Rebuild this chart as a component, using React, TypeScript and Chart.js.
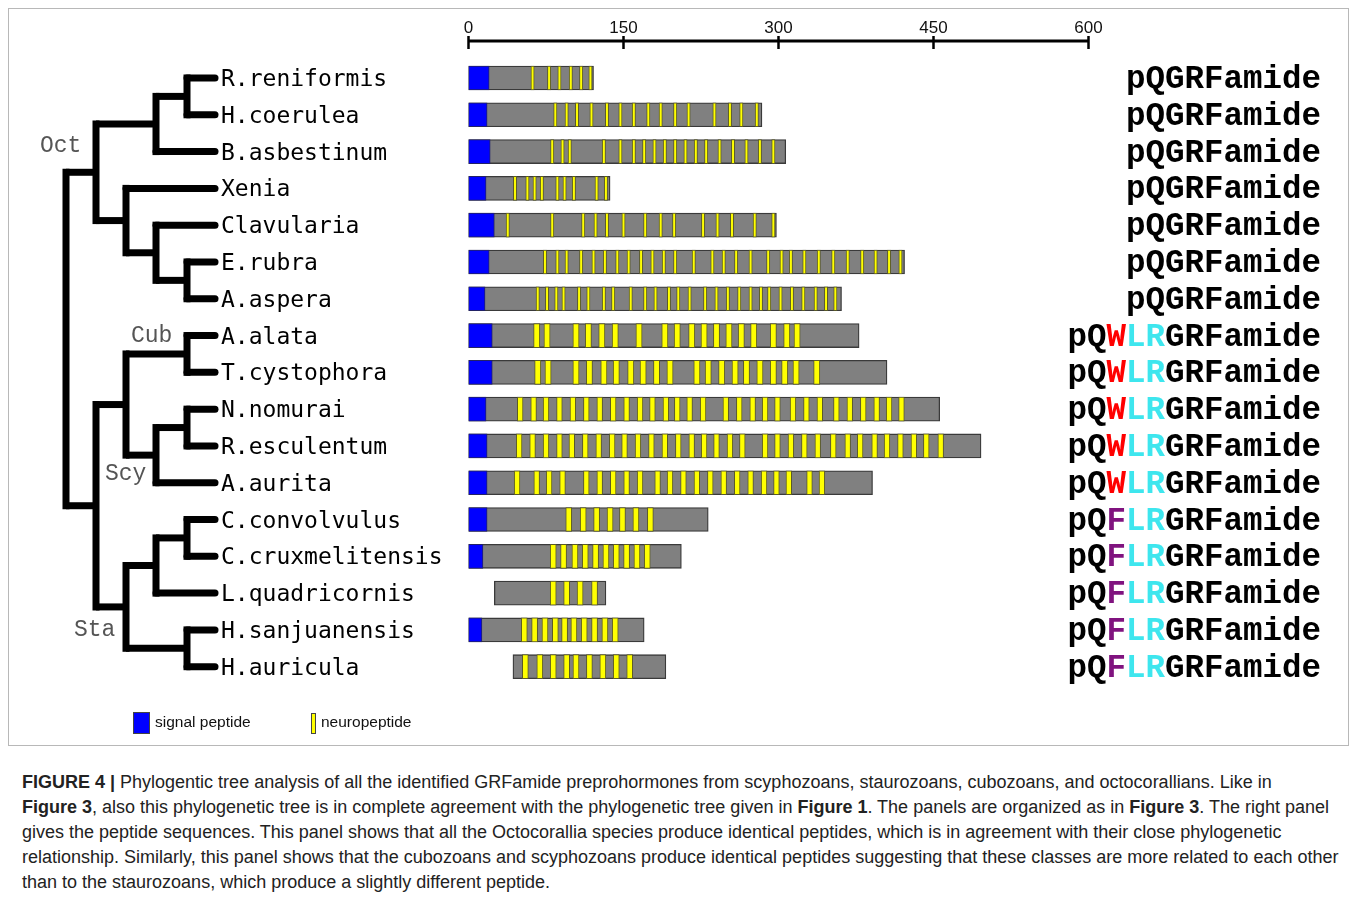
import React, { useEffect, useRef } from "react";
import { Chart, registerables } from "chart.js";
Chart.register(...registerables);

const SPECIES = [
  "R.reniformis", "H.coerulea", "B.asbestinum", "Xenia", "Clavularia", "E.rubra", "A.aspera",
  "A.alata", "T.cystophora", "N.nomurai", "R.esculentum", "A.aurita",
  "C.convolvulus", "C.cruxmelitensis", "L.quadricornis", "H.sanjuanensis", "H.auricula",
];

const PRECURSOR_START = [0, 0, 0, 0, 0, 0, 0, 0, 0, 0, 0, 0, 0, 0, 25, 0, 43];
const PRECURSOR_END = [121, 284, 307, 137, 298, 422, 361, 378, 405, 456, 496, 391, 232, 206, 133, 170, 191];
const SIGNAL_END: (number | null)[] = [20, 18, 21, 17, 25, 20, 16, 23, 23, 17, 18, 18, 18, 14, null, 13, null];
const NEURO_LEN = [3.2, 3.2, 3.2, 3.2, 3.2, 3.2, 3.2, 6, 6, 5.5, 5.5, 5.5, 5.8, 5.8, 5.8, 5.8, 5.8];

const NEURO_CENTERS: number[][] = [
  [62, 78, 88, 99, 109, 118],
  [84, 95, 105, 119, 134, 147, 160, 174, 186, 200, 213, 238, 253, 264, 279],
  [81, 91, 98, 131, 147, 160, 170, 180, 190, 200, 210, 220, 230, 243, 256, 269, 282, 295],
  [45, 57, 64, 71, 86, 93, 102, 124, 133],
  [38, 81, 111, 123, 134, 150, 171, 186, 199, 227, 241, 255, 277, 295],
  [74, 86, 95, 109, 121, 132, 144, 155, 167, 178, 189, 200, 218, 236, 247, 259, 273, 290, 303, 312, 325, 339, 353, 367, 381, 394, 407, 418],
  [67, 76, 85, 92, 107, 116, 131, 140, 157, 171, 181, 194, 203, 214, 229, 240, 251, 262, 273, 283, 291, 302, 313, 324, 336, 346, 355],
  [66, 76, 104, 116, 129, 142, 165, 190, 202, 216, 228, 240, 252, 264, 276, 295, 308, 318],
  [67, 77, 104, 117, 131, 143, 157, 169, 182, 195, 221, 232, 245, 258, 269, 282, 295, 306, 317, 337],
  [50, 63, 75, 88, 101, 114, 127, 140, 153, 166, 178, 191, 202, 214, 227, 249, 262, 275, 287, 299, 314, 327, 340, 356, 369, 382, 395, 407, 419],
  [49, 62, 75, 88, 100, 113, 126, 139, 151, 164, 177, 190, 203, 216, 228, 240, 253, 265, 287, 299, 312, 325, 338, 353, 367, 379, 393, 405, 418, 431, 443, 457],
  [47, 66, 78, 91, 114, 127, 140, 153, 166, 183, 195, 208, 221, 234, 247, 260, 273, 286, 298, 310, 330, 342],
  [97, 111, 124, 137, 149, 162, 176],
  [82, 92, 103, 113, 123, 133, 143, 153, 163, 173],
  [82, 95, 108, 122],
  [54, 64, 74, 84, 93, 102, 112, 122, 132, 142],
  [55, 69, 82, 95, 104, 117, 130, 143, 156],
];

const X_TICKS = [0, 150, 300, 450, 600];

// peptide sequences: segments [text, colorKey]
const PEPTIDES: [string, string][][] = [
  [["pQGRFamide", "k"]],
  [["pQ", "k"], ["W", "r"], ["LR", "c"], ["GRFamide", "k"]],
  [["pQ", "k"], ["F", "p"], ["LR", "c"], ["GRFamide", "k"]],
];
const PEPTIDE_TYPE = [0, 0, 0, 0, 0, 0, 0, 1, 1, 1, 1, 1, 2, 2, 2, 2, 2];

const GROUP_LABELS = ["Oct", "Cub", "Scy", "Sta"];
const LEGEND_LABELS = ["signal peptide", "neuropeptide"];

type TNode = { lv: number; kids: (TNode | number)[] };
const TREE: TNode = {
  lv: 0,
  kids: [
    {
      lv: 1,
      kids: [
        { lv: 3, kids: [{ lv: 4, kids: [0, 1] }, 2] },
        { lv: 2, kids: [3, { lv: 3, kids: [4, { lv: 4, kids: [5, 6] }] }] },
      ],
    },
    {
      lv: 1,
      kids: [
        { lv: 2, kids: [{ lv: 4, kids: [7, 8] }, { lv: 3, kids: [{ lv: 4, kids: [9, 10] }, 11] }] },
        { lv: 2, kids: [{ lv: 3, kids: [{ lv: 4, kids: [12, 13] }, 14] }, { lv: 4, kids: [15, 16] }] },
      ],
    },
  ],
};

const COLORS: Record<string, string> = { k: "#000000", r: "#ff0000", c: "#3ee6ee", p: "#80137f" };

const CW = 1341;
const CH = 738;

const figurePlugin = {
  id: "figureDecor",
  afterDraw(chart: any) {
    const ctx: CanvasRenderingContext2D = chart.ctx;
    const xs = chart.scales.x;
    const ys = chart.scales.y;
    ctx.save();

    // frame
    ctx.strokeStyle = "#b8b8b8";
    ctx.lineWidth = 1;
    ctx.strokeRect(0.5, 0.5, CW - 1, CH - 1);

    // top axis line and tick marks
    const axY = 33;
    ctx.strokeStyle = "#000";
    ctx.lineWidth = 3;
    ctx.beginPath();
    ctx.moveTo(xs.getPixelForValue(X_TICKS[0]), axY);
    ctx.lineTo(xs.getPixelForValue(X_TICKS[X_TICKS.length - 1]), axY);
    ctx.stroke();
    ctx.lineWidth = 2.5;
    X_TICKS.forEach((t) => {
      const px = xs.getPixelForValue(t);
      ctx.beginPath();
      ctx.moveTo(px, axY - 5);
      ctx.lineTo(px, axY + 8);
      ctx.stroke();
    });

    // tree
    const LEVEL_X = [58, 88, 118, 148, 179];
    const TIP_X = 207;
    ctx.strokeStyle = "#000";
    ctx.lineWidth = 7;
    ctx.lineJoin = "miter";
    const draw = (node: TNode | number): number => {
      if (typeof node === "number") return ys.getPixelForValue(node);
      const x = LEVEL_X[node.lv];
      const cys = node.kids.map((k) => {
        const y = draw(k);
        const leaf = typeof k === "number";
        const cx = leaf ? TIP_X : LEVEL_X[(k as TNode).lv];
        ctx.lineCap = leaf ? "round" : "butt";
        ctx.beginPath();
        ctx.moveTo(x, y);
        ctx.lineTo(cx, y);
        ctx.stroke();
        return y;
      });
      const y0 = Math.min(...cys);
      const y1 = Math.max(...cys);
      ctx.lineCap = "square";
      ctx.beginPath();
      ctx.moveTo(x, y0);
      ctx.lineTo(x, y1);
      ctx.stroke();
      return (y0 + y1) / 2;
    };
    draw(TREE);

    // species labels
    ctx.fillStyle = "#000";
    ctx.font = '23px "DejaVu Sans Mono"';
    ctx.textBaseline = "alphabetic";
    ctx.textAlign = "left";
    SPECIES.forEach((s, i) => {
      ctx.fillText(s, 213, ys.getPixelForValue(i) + 8);
    });

    // group labels
    ctx.fillStyle = "#555";
    ctx.font = '23px "Liberation Mono"';
    ctx.textBaseline = "middle";
    const gpos: [number, number][] = [
      [32, ys.getPixelForValue(1.85)],
      [123, ys.getPixelForValue(7.0)],
      [97, ys.getPixelForValue(10.75)],
      [66, ys.getPixelForValue(15.0)],
    ];
    GROUP_LABELS.forEach((g, i) => ctx.fillText(g, gpos[i][0], gpos[i][1]));

    // peptide sequences (right aligned)
    ctx.font = 'bold 32.5px "Liberation Mono"';
    ctx.textBaseline = "alphabetic";
    SPECIES.forEach((_, i) => {
      const segs = PEPTIDES[PEPTIDE_TYPE[i]];
      const total = segs.reduce((a, s) => a + ctx.measureText(s[0]).width, 0);
      let x = 1313 - total;
      const y = ys.getPixelForValue(i) + 10;
      segs.forEach(([t, c]) => {
        ctx.fillStyle = COLORS[c];
        ctx.fillText(t, x, y);
        x += ctx.measureText(t).width;
      });
    });

    // legend
    ctx.lineWidth = 1;
    ctx.strokeStyle = "#444";
    ctx.fillStyle = "#0000ff";
    ctx.fillRect(125, 704, 17, 22);
    ctx.strokeRect(125.5, 704.5, 16, 21);
    ctx.fillStyle = "#ffff00";
    ctx.fillRect(303, 705, 5, 21);
    ctx.strokeRect(303.5, 705.5, 4, 20);
    ctx.fillStyle = "#111";
    ctx.font = '15.5px "Liberation Sans"';
    ctx.textBaseline = "middle";
    ctx.fillText(LEGEND_LABELS[0], 147, 715);
    ctx.fillText(LEGEND_LABELS[1], 313, 715);

    ctx.restore();
  },
};

export default function App() {
  const ref = useRef<HTMLCanvasElement>(null);
  useEffect(() => {
    if (!ref.current) return;
    const maxN = Math.max(...NEURO_CENTERS.map((a) => a.length));
    const neuroSets = Array.from({ length: maxN }, (_, k) => ({
      label: "neuropeptide " + (k + 1),
      data: NEURO_CENTERS.map((arr, i) =>
        k < arr.length ? [arr[k] - NEURO_LEN[i] / 2, arr[k] + NEURO_LEN[i] / 2] : null
      ),
      backgroundColor: "#ffff00",
      borderColor: "#5a5a28",
      borderWidth: 1,
      borderSkipped: false,
      order: 1,
    }));
    const chart = new Chart(ref.current, {
      type: "bar",
      data: {
        labels: SPECIES,
        datasets: [
          {
            label: "precursor",
            data: PRECURSOR_START.map((s, i) => [s, PRECURSOR_END[i]]),
            backgroundColor: "#808080",
            borderColor: "#3a3a3a",
            borderWidth: 1.3,
            borderSkipped: false,
            order: 3,
          } as any,
          {
            label: "signal peptide",
            data: SIGNAL_END.map((e) => (e === null ? null : [0, e])),
            backgroundColor: "#0000ff",
            borderColor: "#222266",
            borderWidth: 1,
            borderSkipped: false,
            order: 2,
          } as any,
          ...(neuroSets as any[]),
        ],
      },
      options: {
        responsive: false,
        animation: false,
        indexAxis: "y",
        datasets: { bar: { grouped: false, barThickness: 24 } },
        layout: { padding: { left: 460.5, right: 260.5, top: 0, bottom: 60.9 } },
        plugins: { legend: { display: false }, tooltip: { enabled: false } },
        scales: {
          x: {
            type: "linear",
            position: "top",
            min: 0,
            max: 600,
            ticks: {
              stepSize: 150,
              color: "#111",
              font: { family: '"Liberation Sans", Arial, sans-serif', size: 17 },
              padding: 20.9,
              maxRotation: 0,
            },
            grid: { display: false, drawTicks: false },
            border: { display: false },
            afterFit: (scale: any) => {
              scale.height = 51.6;
            },
          },
          y: { type: "category", display: false },
        },
      } as any,
      plugins: [figurePlugin],
    });
    return () => chart.destroy();
  }, []);

  return (
    <div style={{ width: CW }}>
      <canvas ref={ref} width={CW} height={CH} style={{ display: "block", width: CW, height: CH }} />
      <div
        style={{
          marginTop: 24,
          marginLeft: 14,
          font: '18px "Liberation Sans", Arial, sans-serif',
          lineHeight: "25px",
          color: "#222",
          whiteSpace: "nowrap",
        }}
      >
        <b>FIGURE 4 |</b> Phylogentic tree analysis of all the identified GRFamide preprohormones from scyphozoans, staurozoans, cubozoans, and octocorallians. Like in
        <br />
        <b>Figure 3</b>, also this phylogenetic tree is in complete agreement with the phylogenetic tree given in <b>Figure 1</b>. The panels are organized as in <b>Figure 3</b>. The right panel
        <br />
        gives the peptide sequences. This panel shows that all the Octocorallia species produce identical peptides, which is in agreement with their close phylogenetic
        <br />
        relationship. Similarly, this panel shows that the cubozoans and scyphozoans produce identical peptides suggesting that these classes are more related to each other
        <br />
        than to the staurozoans, which produce a slightly different peptide.
      </div>
    </div>
  );
}
